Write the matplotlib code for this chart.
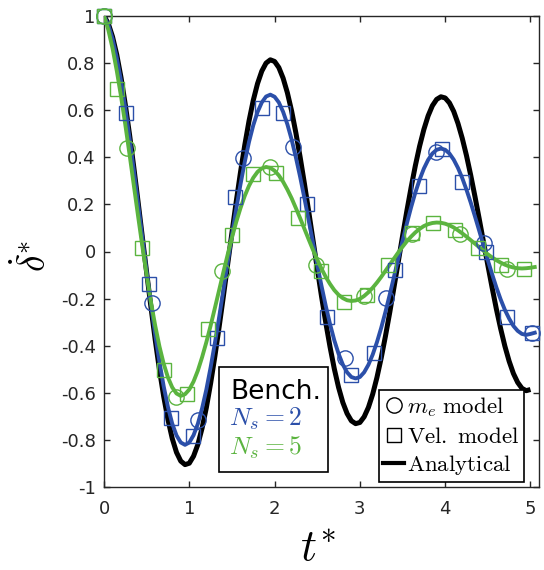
import matplotlib
matplotlib.use('Agg')
import matplotlib.pyplot as plt
from matplotlib.patches import Rectangle
from matplotlib.lines import Line2D

plt.rcParams['mathtext.fontset'] = 'cm'
plt.rcParams['font.family'] = ['DejaVu Sans']

# ---------------- data ----------------
t_curve = [0.0, 0.05, 0.1, 0.15, 0.2, 0.25, 0.3, 0.35, 0.4, 0.45,
           0.5, 0.55, 0.6, 0.65, 0.7, 0.75, 0.8, 0.85, 0.9, 0.95,
           1.0, 1.05, 1.1, 1.15, 1.2, 1.25, 1.3, 1.35, 1.4, 1.45,
           1.5, 1.55, 1.6, 1.65, 1.7, 1.75, 1.8, 1.85, 1.9, 1.95,
           2.0, 2.05, 2.1, 2.15, 2.2, 2.25, 2.3, 2.35, 2.4, 2.45,
           2.5, 2.55, 2.6, 2.65, 2.7, 2.75, 2.8, 2.85, 2.9, 2.95,
           3.0, 3.05, 3.1, 3.15, 3.2, 3.25, 3.3, 3.35, 3.4, 3.45,
           3.5, 3.55, 3.6, 3.65, 3.7, 3.75, 3.8, 3.85, 3.9, 3.95,
           4.0, 4.05, 4.1, 4.15, 4.2, 4.25, 4.3, 4.35, 4.4, 4.45,
           4.5, 4.55, 4.6, 4.65, 4.7, 4.75, 4.8, 4.85, 4.9, 4.95,
           5.0]
t_curve_ext = t_curve + [5.05]

analytical = [1.000, 0.968, 0.912, 0.835, 0.738, 0.623, 0.495, 0.356, 0.210, 0.060,
              -0.089, -0.235, -0.374, -0.502, -0.616, -0.714, -0.794, -0.853, -0.890, -0.905,
              -0.899, -0.869, -0.820, -0.750, -0.663, -0.560, -0.445, -0.320, -0.189, -0.054,
              0.080, 0.211, 0.336, 0.451, 0.554, 0.642, 0.713, 0.766, 0.800, 0.814,
              0.807, 0.781, 0.736, 0.674, 0.596, 0.503, 0.400, 0.288, 0.170, 0.049,
              -0.072, -0.190, -0.302, -0.405, -0.498, -0.577, -0.641, -0.688, -0.719, -0.731,
              -0.726, -0.702, -0.662, -0.606, -0.535, -0.452, -0.359, -0.259, -0.152, -0.044,
              0.065, 0.171, 0.271, 0.364, 0.447, 0.518, 0.576, 0.619, 0.646, 0.657,
              0.652, 0.631, 0.595, 0.544, 0.481, 0.407, 0.323, 0.232, 0.137, 0.039,
              -0.058, -0.153, -0.244, -0.327, -0.402, -0.466, -0.518, -0.556, -0.581, -0.591,
              -0.586]

bench_ns2 = [1.000, 0.963, 0.903, 0.822, 0.723, 0.608, 0.480, 0.344, 0.202, 0.058,
             -0.085, -0.222, -0.352, -0.469, -0.573, -0.661, -0.731, -0.781, -0.811, -0.821,
             -0.811, -0.780, -0.732, -0.666, -0.586, -0.492, -0.389, -0.279, -0.163, -0.047,
             0.069, 0.180, 0.285, 0.380, 0.465, 0.536, 0.592, 0.633, 0.658, 0.666,
             0.657, 0.633, 0.593, 0.540, 0.475, 0.399, 0.316, 0.226, 0.132, 0.038,
             -0.056, -0.146, -0.231, -0.308, -0.377, -0.434, -0.480, -0.513, -0.533, -0.539,
             -0.533, -0.513, -0.481, -0.438, -0.385, -0.324, -0.256, -0.183, -0.107, -0.031,
             0.045, 0.118, 0.187, 0.250, 0.305, 0.352, 0.389, 0.416, 0.432, 0.437,
             0.432, 0.416, 0.390, 0.355, 0.312, 0.262, 0.207, 0.148, 0.087, 0.025,
             -0.037, -0.096, -0.152, -0.203, -0.248, -0.285, -0.316, -0.337, -0.350, -0.354,
             -0.350, -0.345]

bench_ns5 = [1.000, 0.942, 0.863, 0.767, 0.658, 0.538, 0.411, 0.280, 0.149, 0.021,
             -0.100, -0.213, -0.314, -0.403, -0.477, -0.535, -0.577, -0.603, -0.613, -0.606,
             -0.586, -0.552, -0.506, -0.449, -0.385, -0.315, -0.240, -0.164, -0.087, -0.013,
             0.059, 0.125, 0.184, 0.236, 0.279, 0.313, 0.338, 0.353, 0.359, 0.355,
             0.343, 0.323, 0.296, 0.263, 0.226, 0.184, 0.141, 0.096, 0.051, 0.007,
             -0.034, -0.073, -0.108, -0.138, -0.164, -0.184, -0.198, -0.207, -0.210, -0.208,
             -0.201, -0.189, -0.173, -0.154, -0.132, -0.108, -0.082, -0.056, -0.030, -0.004,
             0.020, 0.043, 0.063, 0.081, 0.096, 0.108, 0.116, 0.121, 0.123, 0.122,
             0.118, 0.111, 0.102, 0.090, 0.077, 0.063, 0.048, 0.033, 0.018, 0.003,
             -0.012, -0.025, -0.037, -0.047, -0.056, -0.063, -0.068, -0.071, -0.072, -0.071,
             -0.069, -0.066]

# m_e model (circles)
t_me_ns2 = [0.0, 0.56, 1.10, 1.63, 2.22, 2.82, 3.31, 3.89, 4.46, 5.02]
y_me_ns2 = [1.0, -0.217, -0.716, 0.396, 0.442, -0.454, -0.199, 0.424, 0.035, -0.346]
t_me_ns5 = [0.0, 0.27, 0.84, 1.38, 1.95, 2.49, 3.05, 3.61, 4.17, 4.72]
y_me_ns5 = [1.0, 0.438, -0.617, -0.083, 0.36, -0.057, -0.188, 0.074, 0.074, -0.076]

# Velocity model (squares)
t_vel_ns2 = [0.0, 0.26, 0.53, 0.785, 1.047, 1.325, 1.54, 1.85, 2.10, 2.38,
             2.62, 2.90, 3.16, 3.41, 3.69, 3.96, 4.20, 4.48, 4.73, 5.02]
y_vel_ns2 = [1.0, 0.59, -0.14, -0.708, -0.782, -0.369, 0.23, 0.61, 0.59, 0.20,
             -0.28, -0.525, -0.43, -0.08, 0.28, 0.435, 0.295, 0.0, -0.28, -0.346]
t_vel_ns5 = [0.0, 0.15, 0.44, 0.707, 0.969, 1.223, 1.497, 1.75, 2.013, 2.278,
             2.544, 2.817, 3.08, 3.333, 3.614, 3.86, 4.115, 4.39, 4.66, 4.92]
y_vel_ns5 = [1.0, 0.689, 0.014, -0.503, -0.605, -0.33, 0.07, 0.328, 0.332, 0.141,
             -0.083, -0.213, -0.185, -0.057, 0.08, 0.12, 0.091, 0.014, -0.057, -0.076]

xticks = [0, 1, 2, 3, 4, 5]
xtick_labels = ['0', '1', '2', '3', '4', '5']
yticks = [-1, -0.8, -0.6, -0.4, -0.2, 0, 0.2, 0.4, 0.6, 0.8, 1]
ytick_labels = ['-1', '-0.8', '-0.6', '-0.4', '-0.2', '0', '0.2', '0.4', '0.6', '0.8', '1']

BLUE = '#2b4fa9'
GREEN = '#5bb43f'
AXC = '#262626'

# ---------------- figure ----------------
fig = plt.figure(figsize=(5.44, 5.70), dpi=100)
ax = fig.add_axes([104/544, 1-487/570, 435/544, 471/570])

ax.plot(t_curve, analytical, color='black', lw=3.6, zorder=3, solid_capstyle='butt',
        solid_joinstyle='round')
ax.plot(t_curve_ext, bench_ns2, color=BLUE, lw=2.8, zorder=4, solid_joinstyle='round')
ax.plot(t_curve_ext, bench_ns5, color=GREEN, lw=2.8, zorder=5, solid_joinstyle='round')

mk = dict(linestyle='none', markerfacecolor='none', markeredgewidth=1.0, clip_on=False)
ax.plot(t_me_ns2, y_me_ns2, marker='o', markersize=11, markeredgecolor=BLUE, zorder=6, **mk)
ax.plot(t_vel_ns2, y_vel_ns2, marker='s', markersize=9.5, markeredgecolor=BLUE, zorder=6, **mk)
ax.plot(t_me_ns5, y_me_ns5, marker='o', markersize=11, markeredgecolor=GREEN, zorder=7, **mk)
ax.plot(t_vel_ns5, y_vel_ns5, marker='s', markersize=9.5, markeredgecolor=GREEN, zorder=7, **mk)

ax.set_xlim(0, 5.1)
ax.set_ylim(-1, 1)
ax.set_xticks(xticks)
ax.set_xticklabels(xtick_labels)
ax.set_yticks(yticks)
ax.set_yticklabels(ytick_labels)
ax.tick_params(direction='in', length=4, width=1, top=True, right=True,
               labelsize=13, colors=AXC, labelcolor=AXC)
ax.tick_params(axis='x', pad=9)
ax.tick_params(axis='y', pad=6)
for s in ax.spines.values():
    s.set_color(AXC)
    s.set_linewidth(1.0)

fig.text(34/544, 1-256/570, r'$\dot{\delta}^{*}$', fontsize=27, rotation=90,
         ha='center', va='center')
fig.text(318/544, 1-548/570, r'$t^{*}$', fontsize=32, ha='center', va='center')

# Bench box
ax.add_patch(Rectangle((1.348, -0.936), 1.278, 0.446, facecolor='white',
                       edgecolor='black', lw=1.2, zorder=8))
ax.text(1.477, -0.598, 'Bench.', fontsize=19, color='black', ha='left', va='center', zorder=9)
ax.text(1.462, -0.712, r'$N_s = 2$', fontsize=18.5, color=BLUE, ha='left', va='center', zorder=9)
ax.text(1.462, -0.835, r'$N_s = 5$', fontsize=18.5, color=GREEN, ha='left', va='center', zorder=9)

# legend
handles = [Line2D([], [], linestyle='none', marker='o', markersize=11, markerfacecolor='none',
                  markeredgecolor='black', markeredgewidth=1.0),
           Line2D([], [], linestyle='none', marker='s', markersize=9.5, markerfacecolor='none',
                  markeredgecolor='black', markeredgewidth=1.0),
           Line2D([], [], color='black', lw=3.0)]
labels = [r'$m_e\ \mathrm{model}$', r'$\mathrm{Vel.\ model}$', r'$\mathrm{Analytical}$']
leg = ax.legend(handles, labels, loc='lower right',
                bbox_to_anchor=(524/544, 1-482/570), bbox_transform=fig.transFigure,
                fontsize=16.5, frameon=True, fancybox=False, framealpha=1,
                edgecolor='black', handlelength=0.9, handletextpad=0.15,
                borderpad=0.2, labelspacing=0.25, borderaxespad=0)
leg.get_frame().set_linewidth(1.2)
leg.set_zorder(10)

fig.savefig('out.png', dpi=100)
